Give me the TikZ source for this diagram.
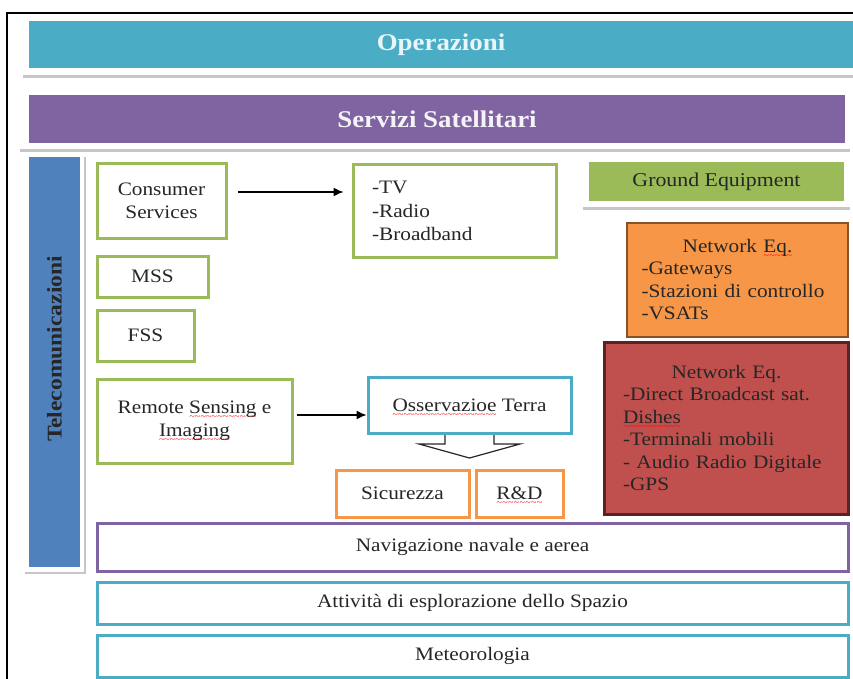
\documentclass[tikz,border=0pt]{standalone}
\usepackage{fontspec}
\setmainfont{Liberation Serif}[FakeStretch=1.12]
\usetikzlibrary{arrows.meta}
\definecolor{cop}{HTML}{4BACC6}
\definecolor{cserv}{HTML}{8064A2}
\definecolor{ctel}{HTML}{4F81BD}
\definecolor{cvert}{HTML}{9BBB59}
\definecolor{corange}{HTML}{F79646}
\definecolor{crouge}{HTML}{C0504D}
\definecolor{ctexte}{HTML}{262626}
\newcommand\souligne[1]{\leavevmode\setbox0=\hbox{#1}\rlap{\raisebox{-6pt}[0pt][0pt]{\textcolor{red}{\fontsize{9}{9}\selectfont\hbox to\wd0{\xleaders\hbox{\char`\~}\hfil}}}}\box0\relax}

\begin{document}
\begin{tikzpicture}[x=1pt,y=-1pt]
\tikzset{cadre/.style={draw=cvert, line width=3pt, fill=white, inner sep=0pt, align=center, text=ctexte, font=\fontsize{19}{23.5}\selectfont}}
\tikzset{bande/.style={inner sep=0pt, font=\bfseries\fontsize{24}{28}\selectfont}}
\tikzset{plein/.style={inner sep=0pt, text=ctexte, font=\fontsize{19}{22.5}\selectfont}}
\tikzset{ombre/.style={draw=gray!45, line width=3pt}}
\tikzset{fleche/.style={line width=1.3pt, -{Latex[length=10pt,width=9pt]}}}
\useasboundingbox (0,0) rectangle (853,679);
\clip (0,0) rectangle (853,679);
\draw[line width=2pt] (7,690) -- (7,13) -- (860,13);
% bandes du haut
\node[bande, fill=cop, text=cop!12, minimum width=824, minimum height=47] (Op) at (441,44.5) {Operazioni};
\draw[ombre] (23,77) -- (860,77);
\node[bande, fill=cserv, text=white!92!cserv, minimum width=816, minimum height=48] (Serv) at (437,119) {Servizi Satellitari};
\draw[ombre] (20,151) -- (850,151);
\draw[ombre, line width=2pt] (85,157) -- (85,573) -- (25,573);
\node[bande, fill=ctel, rotate=90, text=ctexte, minimum width=410, minimum height=51, font=\bfseries\fontsize{21}{25}\selectfont] (Tel) at (54.5,362) {\hspace*{26pt}Telecomunicazioni};
% telecomunicazioni
\node[cadre, minimum width=129, minimum height=74] (CS) at (161.5,201) {Consumer\\Services};
\node[cadre, minimum width=203, minimum height=92, text width=165, align=left] (TV) at (454.5,211) {-TV\\-Radio\\-Broadband};
\node[cadre, minimum width=111, minimum height=41] (MSS) at (152.5,276.5) {MSS};
\node[cadre, minimum width=97, minimum height=51] (FSS) at (145.5,335.5) {FSS};
\node[cadre, minimum width=195, minimum height=84] (RS) at (194.5,421) {Remote \souligne{Sensing} e\\\souligne{Imaging}};
\draw[draw=gray!30!black, fill=white, line width=1.2pt] (469.5,433) ++(-24.5,0) -- ++(0,11) -- ++(-26,0) -- (469.5,458) -- ++(50.5,-14) -- ++(-26,0) -- ++(0,-11);
\node[cadre, draw=cop, minimum width=203, minimum height=56] (OT) at (469.5,405) {\souligne{Osservazioe} Terra};
\node[cadre, draw=corange, minimum width=133, minimum height=47] (Sic) at (402.5,493.5) {Sicurezza};
\node[cadre, draw=corange, minimum width=87, minimum height=47] (RD) at (519.5,493.5) {\souligne{R\&D}};
\draw[fleche, shorten <=10pt, shorten >=8pt] ([yshift=9pt]CS.east) -- ([yshift=9pt]CS.east -| TV.west);
\draw[fleche, shorten <=3pt] ([yshift=6pt]RS.east) -- ([yshift=6pt]RS.east -| OT.west);
% ground equipment
\node[plein, fill=cvert, minimum width=255, minimum height=39, font=\fontsize{19.5}{23}\selectfont] (GE) at (716.5,181.5) {Ground Equipment};
\draw[ombre] (583,208) -- (850,208);
\node[plein, fill=corange, draw=corange!55!black, line width=2pt, minimum width=221, minimum height=114, text width=192, align=left] (NE1) at (737.5,279.5) {\makebox[192pt]{Network \souligne{Eq.}}\\-Gateways\\\mbox{-Stazioni di controllo}\\-VSATs};
\node[plein, fill=crouge, draw=crouge!45!black, line width=3pt, minimum width=244, minimum height=172, text width=207, align=left] (NE2) at (726.5,428) {\makebox[207pt]{Network Eq.}\\-Direct Broadcast sat.\\\souligne{Dishes}\\-Terminali mobili\\- Audio Radio Digitale\\-GPS};
% bande del basso
\node[cadre, draw=cserv, minimum width=751, minimum height=48] (Nav) at (472.5,547) {Navigazione navale e aerea};
\node[cadre, draw=cop, minimum width=751, minimum height=42] (Att) at (472.5,603) {Attività di esplorazione dello Spazio};
\node[cadre, draw=cop, minimum width=751, minimum height=42] (Met) at (472.5,656) {Meteorologia};
\end{tikzpicture}
\end{document}
